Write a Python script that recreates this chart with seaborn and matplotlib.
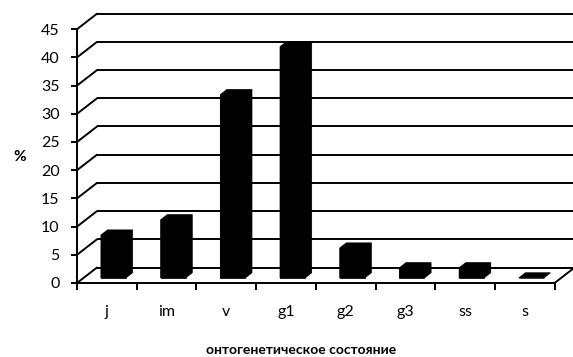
import matplotlib
matplotlib.use("Agg")
import matplotlib.pyplot as plt
import seaborn as sns
import pandas as pd
import numpy as np
from matplotlib.patches import Polygon

# Ontogenetic spectrum of the population, % of individuals per stage
stages = ["j", "im", "v", "g1", "g2", "g3", "ss", "s"]
percent = [7.6, 10.3, 32.5, 41.0, 5.3, 1.8, 1.8, 0.0]
y_ticks = list(range(0, 46, 5))
x_title = "онтогенетическое состояние"
y_title = "%"

sns.set_theme(style="white")
plt.rcParams["font.family"] = ["Lato", "DejaVu Sans"]

W, H = 573, 357
fig = plt.figure(figsize=(W / 100, H / 100), dpi=100)

# plot box geometry (pixels)
px_left, px_zero = 77, 283
cat_px, val_px = 59.7, 5.64
depth_px = (20.0, 15.5)

ddx = depth_px[0] / cat_px          # wall depth in category units
ddy = depth_px[1] / val_px          # wall depth in value units
xlo, xhi = -0.5, 7.5 + ddx
ylo, yhi = 0.0, 45 + ddy + 0.4
ax = fig.add_axes([px_left / W, (H - px_zero) / H,
                   (xhi - xlo) * cat_px / W, (yhi - ylo) * val_px / H])

lw = 1.4
ink = "black"

df = pd.DataFrame({"stage": stages, "percent": percent})
sns.barplot(data=df, x="stage", y="percent", color=ink, saturation=1,
            width=0.42, ax=ax, zorder=3)

# push bars into the middle of the depth and give them a top and side face
f_front, f_depth = 0.33, 0.33
for p in ax.patches:
    p.set_x(p.get_x() + f_front * ddx)
    p.set_y(f_front * ddy)
    p.set_edgecolor(ink)
    p.set_linewidth(0.5)
    x0, y0, w, h = p.get_x(), p.get_y(), p.get_width(), p.get_height()
    bx, by = f_depth * ddx, f_depth * ddy
    ax.add_patch(Polygon([(x0, y0), (x0, y0 + h), (x0 + bx, y0 + h + by),
                          (x0 + w + bx, y0 + h + by), (x0 + w + bx, y0 + by),
                          (x0 + w, y0)],
                         closed=True, facecolor=ink, edgecolor=ink,
                         linewidth=0.5, zorder=3))

# back wall gridlines and left wall diagonals
for v in y_ticks:
    ax.plot([-0.5 + ddx, xhi + 0.2], [v + ddy, v + ddy], color=ink, lw=lw,
            zorder=1, solid_capstyle="butt")
    ax.plot([-0.5, -0.5 + ddx], [v, v + ddy], color=ink, lw=lw, zorder=1)
# floor right edge
ax.plot([7.5, 7.5 + ddx], [0, ddy], color=ink, lw=lw, zorder=1)

ax.set_xlim(xlo, xhi)
ax.set_ylim(ylo, yhi)

for s in ["top", "right"]:
    ax.spines[s].set_visible(False)
for s in ["left", "bottom"]:
    ax.spines[s].set_color(ink)
    ax.spines[s].set_linewidth(lw)
ax.spines["left"].set_bounds(0, 45)
ax.spines["bottom"].set_bounds(-0.5, 7.5)

ax.set_yticks(y_ticks)
ax.set_yticklabels([str(v) for v in y_ticks])
ax.tick_params(axis="y", left=True, direction="out", length=4.5, width=lw,
               color=ink, pad=8, labelsize=11.5, labelcolor=ink)

ax.set_xticks(range(len(stages)))
ax.set_xticklabels(stages)
ax.set_xticks(np.arange(-0.5, len(stages), 1.0), minor=True)
ax.tick_params(axis="x", which="major", bottom=True, length=0, pad=16,
               labelsize=11.5, labelcolor=ink)
ax.tick_params(axis="x", which="minor", bottom=True, direction="out",
               length=5, width=lw, color=ink)

ax.set_xlabel(x_title, fontweight="bold", fontsize=10, color=ink)
ax.xaxis.set_label_coords(301 / W, 1 - 350 / H, transform=fig.transFigure)
ax.xaxis.label.set_va("center")
ax.set_ylabel(y_title, rotation=0, fontweight="bold", fontsize=11, color=ink)
ax.yaxis.set_label_coords(20 / W, 1 - 157 / H, transform=fig.transFigure)
ax.yaxis.label.set_va("center")
ax.yaxis.label.set_ha("center")

ax.set_facecolor("white")
fig.savefig("out.png", dpi=100, facecolor="white")
